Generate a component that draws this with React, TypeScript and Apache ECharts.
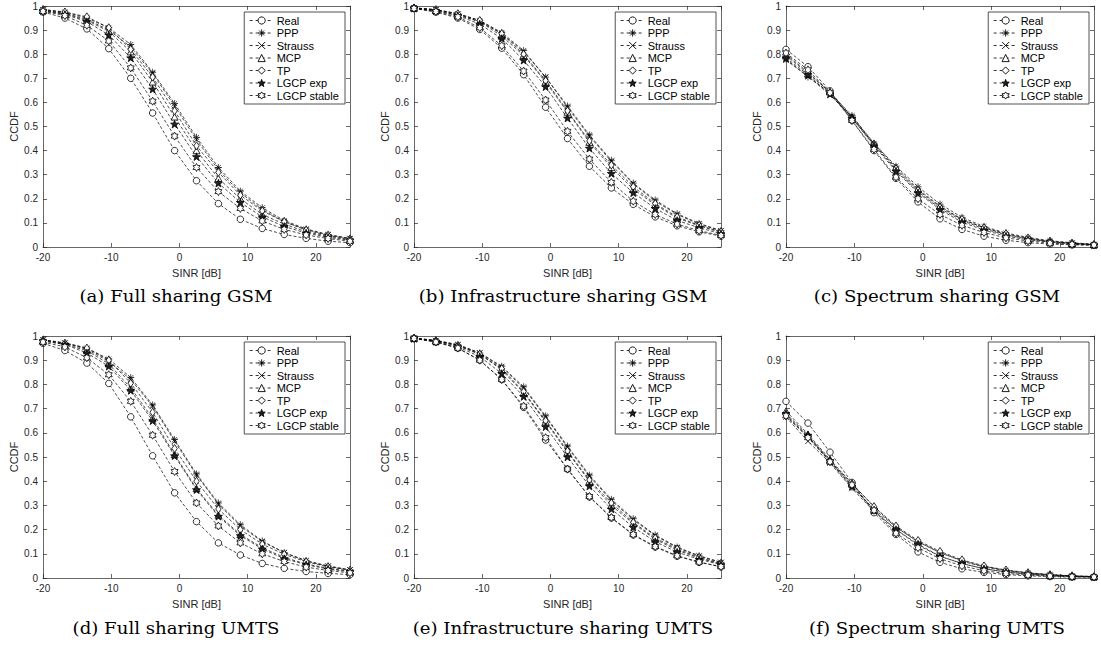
import React, { useEffect, useRef } from 'react';
import * as echarts from 'echarts';

// x positions of the markers (SINR in dB)
const sinrDb = [-20, -16.79, -13.57, -10.36, -7.14, -3.93, -0.71, 2.5, 5.71, 8.93, 12.14, 15.36, 18.57, 21.79, 25];

const seriesNames = ['Real', 'PPP', 'Strauss', 'MCP', 'TP', 'LGCP exp', 'LGCP stable'];

const panelCaptions = [
  '(a) Full sharing GSM',
  '(b) Infrastructure sharing GSM',
  '(c) Spectrum sharing GSM',
  '(d) Full sharing UMTS',
  '(e) Infrastructure sharing UMTS',
  '(f) Spectrum sharing UMTS',
];

const xTickMin = -20;
const xTickMax = 25;
const xTickStep = 10;
const yTickStep = 0.1;

// rows: Real, PPP, Strauss, MCP, TP, LGCP exp, LGCP stable
const fullGsm = [
  [0.975, 0.95, 0.905, 0.823, 0.7, 0.556, 0.4, 0.275, 0.18, 0.115, 0.077, 0.052, 0.036, 0.024, 0.018],
  [0.985, 0.975, 0.95, 0.91, 0.84, 0.725, 0.595, 0.455, 0.33, 0.232, 0.163, 0.11, 0.075, 0.052, 0.036],
  [0.983, 0.97, 0.945, 0.9, 0.83, 0.72, 0.585, 0.445, 0.32, 0.225, 0.155, 0.105, 0.072, 0.05, 0.035],
  [0.982, 0.968, 0.94, 0.895, 0.81, 0.685, 0.54, 0.4, 0.285, 0.2, 0.135, 0.095, 0.063, 0.045, 0.03],
  [0.985, 0.975, 0.955, 0.91, 0.82, 0.705, 0.565, 0.42, 0.31, 0.215, 0.15, 0.105, 0.07, 0.048, 0.033],
  [0.98, 0.965, 0.935, 0.88, 0.785, 0.655, 0.51, 0.375, 0.265, 0.185, 0.125, 0.085, 0.058, 0.04, 0.028],
  [0.978, 0.96, 0.92, 0.855, 0.743, 0.605, 0.46, 0.33, 0.23, 0.16, 0.108, 0.073, 0.05, 0.035, 0.024],
];

const infraGsm = [
  [0.99, 0.975, 0.95, 0.903, 0.825, 0.715, 0.58, 0.45, 0.335, 0.245, 0.177, 0.125, 0.088, 0.063, 0.045],
  [0.992, 0.985, 0.968, 0.94, 0.89, 0.815, 0.705, 0.585, 0.465, 0.36, 0.265, 0.195, 0.138, 0.098, 0.068],
  [0.992, 0.984, 0.966, 0.935, 0.885, 0.81, 0.705, 0.58, 0.46, 0.355, 0.262, 0.19, 0.135, 0.095, 0.067],
  [0.991, 0.982, 0.962, 0.935, 0.875, 0.795, 0.685, 0.56, 0.435, 0.33, 0.24, 0.175, 0.12, 0.088, 0.06],
  [0.992, 0.985, 0.968, 0.94, 0.885, 0.8, 0.69, 0.565, 0.44, 0.34, 0.25, 0.18, 0.125, 0.09, 0.063],
  [0.991, 0.98, 0.96, 0.925, 0.865, 0.775, 0.665, 0.535, 0.41, 0.305, 0.225, 0.16, 0.11, 0.08, 0.055],
  [0.99, 0.977, 0.955, 0.91, 0.835, 0.73, 0.61, 0.48, 0.365, 0.268, 0.19, 0.135, 0.095, 0.068, 0.048],
];

const spectrumGsm = [
  [0.82, 0.748, 0.648, 0.525, 0.4, 0.285, 0.187, 0.117, 0.073, 0.045, 0.028, 0.018, 0.012, 0.009, 0.007],
  [0.78, 0.705, 0.64, 0.545, 0.43, 0.335, 0.25, 0.178, 0.123, 0.085, 0.058, 0.04, 0.026, 0.018, 0.011],
  [0.775, 0.71, 0.63, 0.54, 0.425, 0.32, 0.23, 0.16, 0.11, 0.075, 0.05, 0.033, 0.022, 0.015, 0.01],
  [0.795, 0.72, 0.645, 0.54, 0.43, 0.33, 0.24, 0.17, 0.115, 0.08, 0.052, 0.035, 0.022, 0.015, 0.01],
  [0.8, 0.725, 0.64, 0.535, 0.425, 0.325, 0.235, 0.165, 0.115, 0.08, 0.055, 0.037, 0.024, 0.016, 0.011],
  [0.785, 0.715, 0.635, 0.535, 0.42, 0.315, 0.225, 0.155, 0.103, 0.07, 0.045, 0.03, 0.02, 0.013, 0.009],
  [0.805, 0.735, 0.64, 0.525, 0.405, 0.29, 0.2, 0.135, 0.09, 0.06, 0.038, 0.025, 0.016, 0.011, 0.008],
];

const fullUmts = [
  [0.97, 0.94, 0.888, 0.804, 0.666, 0.505, 0.352, 0.233, 0.145, 0.095, 0.06, 0.04, 0.027, 0.019, 0.014],
  [0.985, 0.972, 0.95, 0.905, 0.828, 0.715, 0.572, 0.43, 0.31, 0.22, 0.153, 0.105, 0.072, 0.05, 0.034],
  [0.983, 0.97, 0.945, 0.895, 0.82, 0.71, 0.565, 0.425, 0.305, 0.215, 0.15, 0.105, 0.07, 0.048, 0.033],
  [0.98, 0.965, 0.94, 0.885, 0.785, 0.66, 0.51, 0.37, 0.26, 0.18, 0.125, 0.085, 0.058, 0.04, 0.028],
  [0.983, 0.97, 0.95, 0.9, 0.805, 0.685, 0.535, 0.4, 0.285, 0.2, 0.14, 0.098, 0.067, 0.046, 0.032],
  [0.98, 0.965, 0.93, 0.875, 0.775, 0.65, 0.505, 0.365, 0.255, 0.175, 0.12, 0.08, 0.055, 0.037, 0.026],
  [0.975, 0.955, 0.91, 0.84, 0.73, 0.59, 0.44, 0.31, 0.215, 0.145, 0.1, 0.068, 0.045, 0.031, 0.021],
];

const infraUmts = [
  [0.99, 0.975, 0.95, 0.9, 0.82, 0.705, 0.57, 0.45, 0.335, 0.248, 0.178, 0.128, 0.09, 0.065, 0.046],
  [0.991, 0.982, 0.965, 0.93, 0.875, 0.79, 0.67, 0.545, 0.425, 0.325, 0.245, 0.178, 0.128, 0.092, 0.065],
  [0.991, 0.981, 0.963, 0.93, 0.87, 0.785, 0.665, 0.54, 0.42, 0.32, 0.24, 0.175, 0.125, 0.09, 0.064],
  [0.99, 0.98, 0.96, 0.925, 0.86, 0.765, 0.645, 0.52, 0.4, 0.3, 0.225, 0.16, 0.115, 0.082, 0.058],
  [0.991, 0.981, 0.96, 0.925, 0.865, 0.77, 0.65, 0.525, 0.405, 0.31, 0.23, 0.165, 0.12, 0.085, 0.06],
  [0.99, 0.978, 0.955, 0.915, 0.845, 0.75, 0.625, 0.5, 0.38, 0.285, 0.21, 0.15, 0.107, 0.077, 0.055],
  [0.99, 0.975, 0.95, 0.9, 0.82, 0.71, 0.58, 0.45, 0.337, 0.25, 0.18, 0.13, 0.092, 0.066, 0.047],
];

const spectrumUmts = [
  [0.73, 0.64, 0.52, 0.395, 0.27, 0.18, 0.108, 0.065, 0.038, 0.023, 0.014, 0.009, 0.006, 0.004, 0.003],
  [0.675, 0.585, 0.48, 0.375, 0.285, 0.21, 0.15, 0.105, 0.072, 0.048, 0.032, 0.021, 0.014, 0.009, 0.006],
  [0.665, 0.565, 0.475, 0.37, 0.275, 0.2, 0.135, 0.09, 0.06, 0.038, 0.025, 0.016, 0.011, 0.007, 0.005],
  [0.69, 0.595, 0.49, 0.39, 0.295, 0.21, 0.15, 0.105, 0.07, 0.045, 0.03, 0.02, 0.013, 0.008, 0.006],
  [0.67, 0.585, 0.485, 0.39, 0.295, 0.215, 0.155, 0.11, 0.075, 0.05, 0.033, 0.022, 0.014, 0.009, 0.006],
  [0.68, 0.59, 0.485, 0.38, 0.28, 0.2, 0.14, 0.09, 0.06, 0.038, 0.025, 0.016, 0.011, 0.007, 0.005],
  [0.67, 0.58, 0.48, 0.385, 0.28, 0.185, 0.125, 0.08, 0.05, 0.03, 0.019, 0.012, 0.008, 0.005, 0.004],
];

const panels = [fullGsm, infraGsm, spectrumGsm, fullUmts, infraUmts, spectrumUmts];

// ---- layout / style (not data) ----
const W = 1101;
const H = 651;
const gridRects = [
  { left: 43, top: 6, width: 307, height: 241 },
  { left: 414, top: 6, width: 307, height: 241 },
  { left: 786, top: 6, width: 308, height: 241 },
  { left: 43, top: 336, width: 307, height: 242 },
  { left: 414, top: 336, width: 307, height: 242 },
  { left: 786, top: 336, width: 308, height: 242 },
];
const captionCenters = [
  { x: 176, y: 296 },
  { x: 563, y: 296 },
  { x: 937, y: 296 },
  { x: 176, y: 628 },
  { x: 563, y: 628 },
  { x: 937, y: 628 },
];

const PENTAGRAM = 'path://M5 0L6.18 3.38L9.76 3.45L6.9 5.62L7.94 9.05L5 7L2.06 9.05L3.1 5.62L0.24 3.45L3.82 3.38Z';
const HEXAGRAM = 'path://M5 0L6.44 2.5L9.33 2.5L7.89 5L9.33 7.5L6.44 7.5L5 10L3.56 7.5L0.67 7.5L2.11 5L0.67 2.5L3.56 2.5Z';
const markerStyles = [
  { symbol: 'circle', size: 6.5, fill: '#fff', bw: 0.8 },
  { symbol: 'path://M5 0L5 10M0 5L10 5M1.5 1.5L8.5 8.5M1.5 8.5L8.5 1.5', size: 7, fill: '#fff', bw: 0.7 },
  { symbol: 'path://M0 0L10 10M0 10L10 0', size: 5.5, fill: '#fff', bw: 0.8 },
  { symbol: 'path://M5 0L10 9L0 9Z', size: 7, fill: '#fff', bw: 0.8 },
  { symbol: 'path://M4 0L8 6L4 12L0 6Z', size: 8, fill: '#fff', bw: 0.8 },
  { symbol: PENTAGRAM, size: 8, fill: '#222', bw: 0.8 },
  { symbol: HEXAGRAM, size: 8, fill: '#fff', bw: 0.8 },
];

const AX = '#262626';
const FONT = '"Liberation Sans", Arial, Helvetica, sans-serif';

export default function App() {
  const ref = useRef<HTMLDivElement>(null);

  useEffect(() => {
    if (!ref.current) return;
    const chart = echarts.init(ref.current, undefined, { renderer: 'svg', width: W, height: H });

    const axisLine = { show: true, onZero: false, lineStyle: { color: AX, width: 0.7 } };
    const axisTick = { show: true, inside: true, length: 4, lineStyle: { color: AX, width: 0.7 } };

    const grid: any[] = [];
    const xAxis: any[] = [];
    const yAxis: any[] = [];
    const series: any[] = [];
    const legend: any[] = [];
    const graphic: any[] = [];

    gridRects.forEach((g, p) => {
      grid.push({ ...g, containLabel: false, show: false });
      xAxis.push({
        gridIndex: p, type: 'value', min: xTickMin, max: xTickMax, interval: xTickStep, position: 'bottom',
        axisLine, axisTick,
        axisLabel: { show: true, showMaxLabel: false, fontSize: 10, color: AX, margin: 5, fontFamily: FONT },
        splitLine: { show: false },
        name: 'SINR [dB]', nameLocation: 'middle', nameGap: 20,
        nameTextStyle: { fontSize: 11, color: AX, fontFamily: FONT },
      });
      xAxis.push({
        gridIndex: p, type: 'value', min: xTickMin, max: xTickMax, interval: xTickStep, position: 'top',
        axisLine, axisTick, axisLabel: { show: false }, splitLine: { show: false },
      });
      yAxis.push({
        gridIndex: p, type: 'value', min: 0, max: 1, interval: yTickStep, position: 'left',
        axisLine, axisTick,
        axisLabel: { show: true, fontSize: 10, color: AX, margin: 5, fontFamily: FONT },
        splitLine: { show: false },
        name: 'CCDF', nameLocation: 'middle', nameGap: 24, nameRotate: 90,
        nameTextStyle: { fontSize: 11, color: AX, fontFamily: FONT },
      });
      yAxis.push({
        gridIndex: p, type: 'value', min: 0, max: 1, interval: yTickStep, position: 'right',
        axisLine, axisTick, axisLabel: { show: false }, splitLine: { show: false },
      });

      panels[p].forEach((vals, s) => {
        const m = markerStyles[s];
        series.push({
          type: 'line',
          name: seriesNames[s],
          xAxisIndex: 2 * p,
          yAxisIndex: 2 * p,
          data: sinrDb.map((x, i) => [x, vals[i]]),
          symbol: m.symbol,
          symbolSize: m.size,
          symbolKeepAspect: true,
          showAllSymbol: true,
          silent: true,
          lineStyle: { color: '#000', width: 0.7, type: [3, 2] },
          itemStyle: { color: m.fill, borderColor: '#000', borderWidth: m.bw },
          emphasis: { disabled: true },
        });
      });

      const rightEdge = g.left + g.width - 5;
      legend.push({
        data: seriesNames,
        orient: 'vertical',
        right: W - rightEdge,
        top: g.top + 6,
        backgroundColor: '#fff',
        borderColor: AX,
        borderWidth: 0.8,
        borderRadius: 0,
        padding: [3, 6, 3, 5],
        itemGap: 1.5,
        itemWidth: 24,
        itemHeight: 9,
        selectedMode: false,
        lineStyle: { width: 0.8, type: [3, 3], color: '#000' },
        itemStyle: { borderWidth: 0.9, borderColor: '#000' },
        textStyle: { fontSize: 11, color: '#000', fontFamily: FONT, padding: [0, 0, 0, -2] },
      });

      graphic.push({
        type: 'text',
        x: captionCenters[p].x,
        y: captionCenters[p].y,
        scaleX: 1.1,
        style: {
          text: panelCaptions[p],
          align: 'center',
          verticalAlign: 'middle',
          fill: '#000',
          font: '16.5px "DejaVu Serif", "Liberation Serif", serif',
        },
      });
    });

    chart.setOption({
      animation: false,
      backgroundColor: '#fff',
      textStyle: { fontFamily: FONT },
      grid, xAxis, yAxis, series, legend, graphic,
    });

    return () => chart.dispose();
  }, []);

  return <div ref={ref} style={{ position: 'absolute', left: 0, top: 0, width: W, height: H }} />;
}
